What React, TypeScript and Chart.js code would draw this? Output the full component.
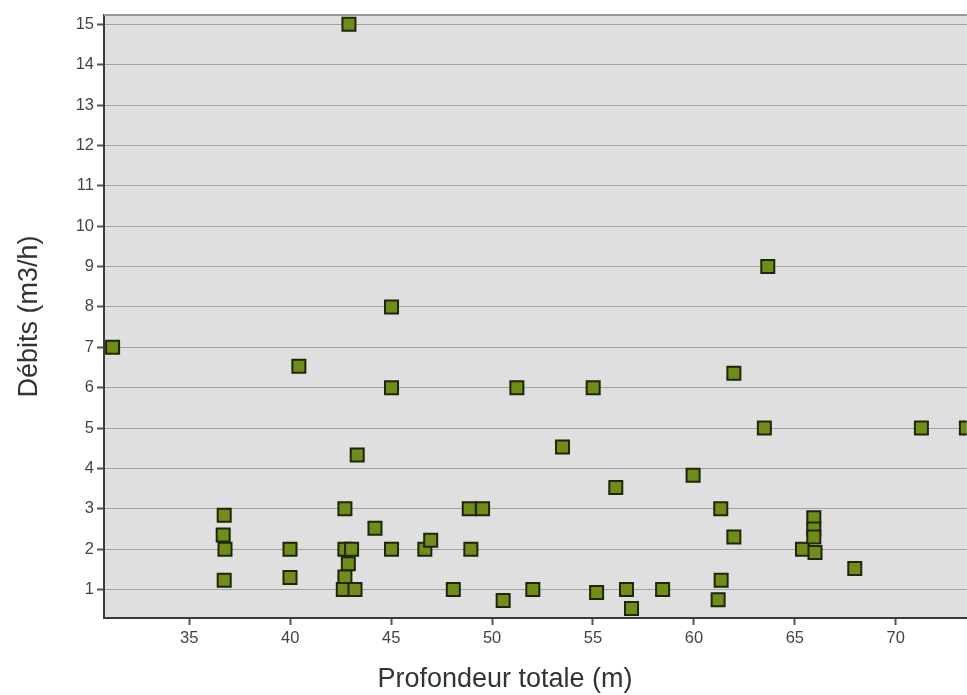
import React, { useEffect, useRef } from "react";
import { Chart, registerables } from "chart.js";

Chart.register(...registerables);

const depth = [
  42.91, 31.2, 40.43, 45.02, 45.02, 51.23, 55.01, 63.66, 61.98, 63.49,
  71.27, 73.5, 43.32, 53.49, 59.96, 56.13, 36.73, 36.68, 36.77, 36.73,
  39.99, 39.99, 42.71, 44.2, 42.71, 43.04, 42.88, 42.71, 42.63, 43.21,
  45.02, 46.67, 46.96, 48.87, 49.53, 48.95, 48.08, 50.55, 52.02, 55.18,
  56.66, 56.91, 58.45, 61.33, 61.98, 61.35, 61.2, 65.38, 65.94, 65.94,
  65.94, 66.0, 67.97,
];
const flow = [
  15.0, 7.0, 6.53, 8.0, 6.0, 6.0, 6.0, 9.0, 6.36, 5.0,
  5.0, 5.0, 4.33, 4.53, 3.83, 3.53, 2.84, 2.35, 2.0, 1.23,
  2.0, 1.3, 3.0, 2.52, 2.0, 2.0, 1.64, 1.31, 1.0, 1.0,
  2.0, 2.0, 2.22, 3.0, 3.0, 2.0, 1.0, 0.73, 1.0, 0.93,
  1.0, 0.53, 1.0, 3.0, 2.3, 1.23, 0.75, 2.0, 2.78, 2.5,
  2.3, 1.92, 1.52,
];
const xTickValues = [35, 40, 45, 50, 55, 60, 65, 70];
const yTickValues = [1, 2, 3, 4, 5, 6, 7, 8, 9, 10, 11, 12, 13, 14, 15];
const xTitle = "Profondeur totale (m)";
const yTitle = "Débits (m3/h)";

const FONT = "'Liberation Sans', Arial, sans-serif";

const bgPlugin = {
  id: "plotBg",
  beforeDraw(chart: any) {
    const { ctx, chartArea } = chart;
    ctx.save();
    ctx.fillStyle = "#dfdfdf";
    ctx.fillRect(chartArea.left, chartArea.top, chartArea.right - chartArea.left, chartArea.bottom - chartArea.top);
    ctx.restore();
  },
  beforeDatasetsDraw(chart: any) {
    const { ctx, chartArea } = chart;
    ctx.save();
    ctx.strokeStyle = "#999999";
    ctx.lineWidth = 2;
    ctx.beginPath();
    ctx.moveTo(chartArea.left, chartArea.top);
    ctx.lineTo(chartArea.right, chartArea.top);
    ctx.stroke();
    ctx.restore();
  },
  afterDraw(chart: any) {
    const { ctx } = chart;
    ctx.save();
    ctx.fillStyle = "#333333";
    ctx.font = `27px ${FONT}`;
    ctx.textAlign = "center";
    ctx.textBaseline = "middle";
    ctx.fillText(xTitle, 505, 680);
    ctx.restore();
  },
};

export default function App() {
  const ref = useRef<HTMLCanvasElement>(null);
  useEffect(() => {
    if (!ref.current) return;
    const chart = new Chart(ref.current, {
      type: "scatter",
      data: {
        datasets: [
          {
            data: depth.map((x, i) => ({ x, y: flow[i] })),
            pointStyle: "rect",
            pointRadius: 9.2,
            pointHoverRadius: 9.2,
            backgroundColor: "#6f8d18",
            borderColor: "#1f2608",
            borderWidth: 2,
          },
        ],
      },
      options: {
        responsive: false,
        animation: false,
        layout: { padding: { top: 15, right: 0, left: 0, bottom: 0 } },
        plugins: { legend: { display: false }, tooltip: { enabled: false } },
        scales: {
          x: {
            type: "linear",
            min: 30.775,
            max: 73.52,
            afterBuildTicks: (s: any) => {
              s.ticks = xTickValues.map((v) => ({ value: v }));
            },
            afterFit: (s: any) => {
              s.height = 77;
              s.paddingRight = 0;
            },
            grid: { drawOnChartArea: false, tickLength: 7, tickColor: "#555", tickWidth: 2 },
            border: { color: "#3a3a3a", width: 2 },
            ticks: { color: "#444", padding: 4, font: { family: FONT, size: 16.5 } },
          },
          y: {
            type: "linear",
            min: 0.296,
            max: 15.23,
            afterBuildTicks: (s: any) => {
              s.ticks = yTickValues.map((v) => ({ value: v }));
            },
            afterFit: (s: any) => {
              s.width = 104;
            },
            grid: { color: "#a2a2a2", lineWidth: 1, tickLength: 7, tickColor: "#555", tickWidth: 2 },
            border: { color: "#3a3a3a", width: 2 },
            ticks: { color: "#444", padding: 3, font: { family: FONT, size: 16.5 } },
            title: {
              display: true,
              text: yTitle,
              color: "#333",
              font: { family: FONT, size: 27 },
              padding: { top: 13, bottom: 0 },
            },
          },
        },
      },
      plugins: [bgPlugin],
    });
    return () => chart.destroy();
  }, []);
  return (
    <div style={{ position: "fixed", left: 0, top: 0, width: 967, height: 695, overflow: "hidden", background: "#fff" }}>
      <canvas ref={ref} width={978} height={695} style={{ display: "block" }} />
    </div>
  );
}
